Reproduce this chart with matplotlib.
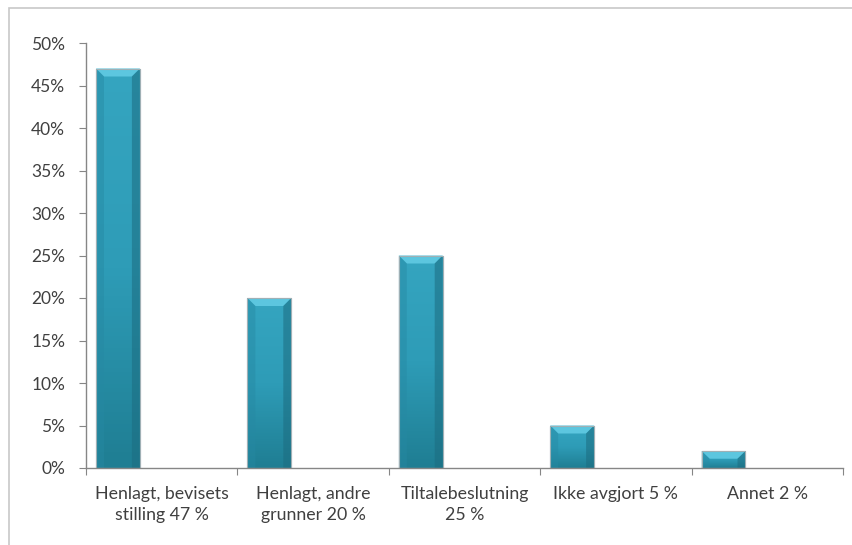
import numpy as np
import matplotlib
matplotlib.use("Agg")
import matplotlib.pyplot as plt
from matplotlib.patches import Polygon, Rectangle
from matplotlib.ticker import FuncFormatter

# ---------------- Data ----------------
categories = ["Henlagt, bevisets\nstilling 47 %", "Henlagt, andre\ngrunner 20 %",
              "Tiltalebeslutning\n25 %", "Ikke avgjort 5 %", "Annet 2 %"]
values = [47, 20, 25, 5, 2]
y_ticks = [0, 5, 10, 15, 20, 25, 30, 35, 40, 45, 50]

plt.rcParams['font.family'] = ['Lato', 'DejaVu Sans']

fig = plt.figure(figsize=(8.53, 5.45), dpi=100)
# outer chart frame (runs off right/bottom edge like the source)
fig.patches.append(Rectangle((9/853, -0.05), 1.2, 1 - 8/545 + 0.05, transform=fig.transFigure,
                             fill=False, edgecolor="#c8c8c8", linewidth=1.2))
ax = fig.add_axes([86/853, 77/545, (843-86)/853, (468-43)/545])

x = np.arange(len(values))
off, w = 0.066, 0.29
bars = ax.bar(x + off, values, width=w, align="edge", color="#2b97b1",
              edgecolor="#a9b4b8", linewidth=0.8, zorder=2)

ax.set_xlim(0, len(values))
ax.set_ylim(0, 50)

# bevel sizes in data units (~8 px)
dx = 8 / 151.4
dy = 8 / 425 * 50
grad = np.linspace(0, 1, 100).reshape(-1, 1)
cmap = matplotlib.colors.LinearSegmentedColormap.from_list("b", ["#1f7e93", "#2e9cb7", "#35a5c0"])
for b in bars:
    x0, y0 = b.get_x(), b.get_y()
    x1, y1 = x0 + b.get_width(), y0 + b.get_height()
    im = ax.imshow(grad, extent=[x0, x1, y0, y1], origin="lower", aspect="auto",
                   cmap=cmap, zorder=2.1)
    im.set_clip_path(b)
    dyb = min(dy, (y1 - y0) / 2.2)
    ax.add_patch(Polygon([(x0, y1), (x1, y1), (x1 - dx, y1 - dyb), (x0 + dx, y1 - dyb)],
                         closed=True, facecolor="#5cc6df", edgecolor="none", zorder=2.2))
    ax.add_patch(Polygon([(x0, y1), (x0 + dx, y1 - dyb), (x0 + dx, y0), (x0, y0)],
                         closed=True, facecolor="#2689a3", edgecolor="none", zorder=2.2, alpha=0.45))
    ax.add_patch(Polygon([(x1, y1), (x1 - dx, y1 - dyb), (x1 - dx, y0), (x1, y0)],
                         closed=True, facecolor="#1c6c80", edgecolor="none", zorder=2.2, alpha=0.55))
    ax.add_patch(Rectangle((x0, y0), x1 - x0, y1 - y0, fill=False,
                           edgecolor="#9fb0b5", linewidth=0.8, zorder=2.3))

for s in ["top", "right"]:
    ax.spines[s].set_visible(False)
for s in ["left", "bottom"]:
    ax.spines[s].set_color("#868686")
    ax.spines[s].set_linewidth(1.0)

ax.set_yticks(y_ticks)
ax.yaxis.set_major_formatter(FuncFormatter(lambda v, p: f"{int(v)}%"))
ax.tick_params(axis="y", direction="out", length=5, color="#868686",
               labelsize=12.5, labelcolor="#404040", pad=10)
ax.set_xticks(np.arange(len(values) + 1))
ax.set_xticklabels([])
ax.set_xticks(x + 0.5, minor=True)
ax.set_xticklabels(categories, minor=True)
ax.tick_params(axis="x", which="major", direction="out", length=5, color="#868686")
ax.tick_params(axis="x", which="minor", length=0, labelsize=12.8, labelcolor="#404040", pad=13)
for t in ax.get_xticklabels(minor=True):
    t.set_linespacing(1.4)

fig.savefig("out.png", dpi=100)
